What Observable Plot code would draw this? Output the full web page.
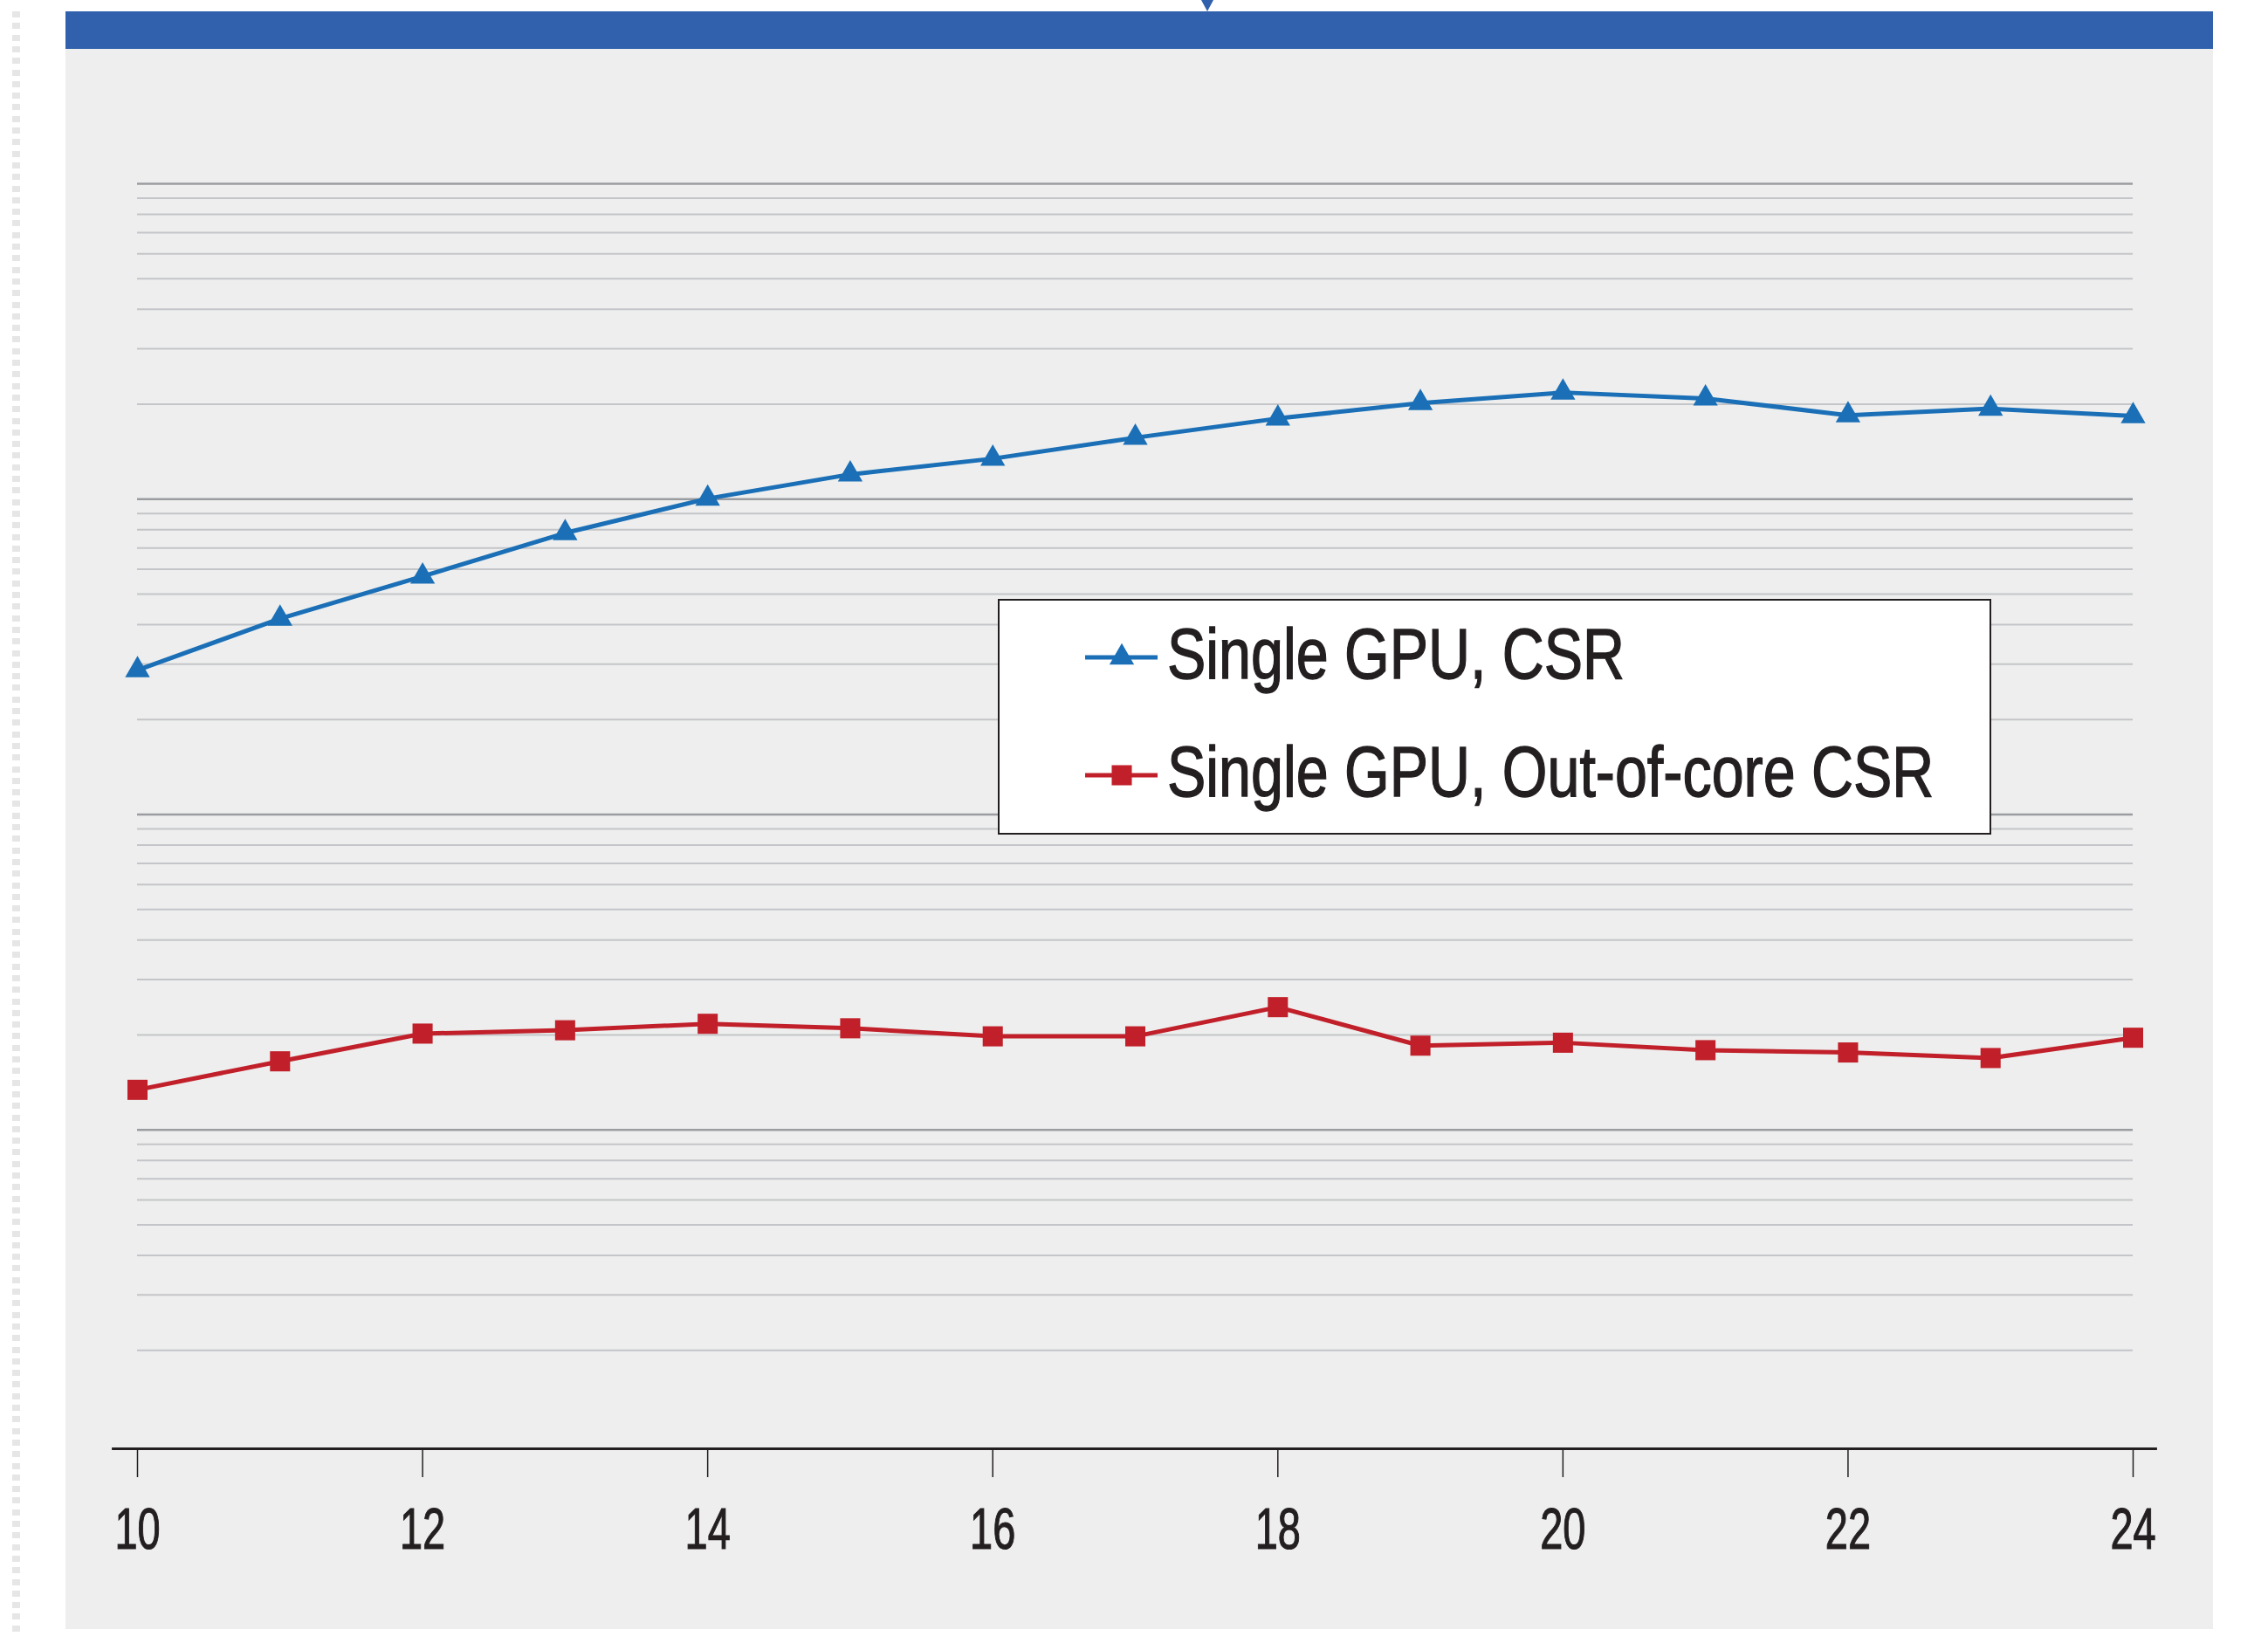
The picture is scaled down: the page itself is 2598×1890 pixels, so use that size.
<!DOCTYPE html>
<html><head><meta charset="utf-8">
<script src="https://cdn.jsdelivr.net/npm/d3@7"></script>
<script src="https://cdn.jsdelivr.net/npm/@observablehq/plot@0.6"></script>
<style>
html,body{margin:0;padding:0;background:#fff;width:2598px;height:1890px;overflow:hidden;position:relative;font-family:"Liberation Sans",Arial,sans-serif}
#dash{position:absolute;left:14px;top:13px;width:9px;height:1862px;background:repeating-linear-gradient(to bottom,#e6e6e6 0 7px,transparent 7px 13.3px)}
#panel{position:absolute;left:75px;top:55px;width:2460px;height:1811px;background:#edeeed}
#bar{position:absolute;left:75px;top:13px;width:2460px;height:43px;background:#3161ad}
#notch{position:absolute;left:1376px;top:0;width:0;height:0;border-left:7px solid transparent;border-right:7px solid transparent;border-top:13px solid #3161ad}
#chart{position:absolute;left:0;top:0}
#chart svg{display:block}
#legend{position:absolute;left:1143px;top:686px}
</style></head><body>
<div id="dash"></div><div id="panel"></div><div id="bar"></div><div id="notch"></div>
<div id="chart"></div><div id="legend"></div>
<script>
// ---- data ----
const scales = [10, 11, 12, 13, 14, 15, 16, 17, 18, 19, 20, 21, 22, 23, 24];
const csrValues = [287, 418, 569, 781, 1004, 1198, 1344, 1566, 1802, 2017, 2178, 2086, 1845, 1936, 1834];
const oocValues = [13.4, 16.5, 20.2, 20.7, 21.7, 21.0, 19.8, 19.8, 24.5, 18.5, 18.9, 17.9, 17.6, 16.9, 19.6];
const seriesNames = ["Single GPU, CSR", "Single GPU, Out-of-core CSR"];
const seriesColors = ["#1a6fb7", "#c1202a"];
const seriesSymbols = ["triangle", "square"];
const xTickValues = [10, 12, 14, 16, 18, 20, 22, 24];
const yDecades = [1, 10, 100, 1000, 10000];

// ---- build table ----
const rows = scales.flatMap((s, i) => [
  {scale: s, value: csrValues[i], series: seriesNames[0]},
  {scale: s, value: oocValues[i], series: seriesNames[1]}
]);
const minorGrid = yDecades.slice(0, -1).flatMap(d => d3.range(2, 10).map(k => k * d));
const xFirst = scales[0], xLast = scales[scales.length - 1];
const symR = [10.5, 13];

const chart = Plot.plot({
  width: 2598, height: 1890,
  marginLeft: 129, marginRight: 129, marginTop: 210, marginBottom: 231,
  style: {background: "transparent", color: "#231f20", fontSize: "67px",
          fontFamily: "'Liberation Sans', Arial, sans-serif", overflow: "visible"},
  x: {domain: [xFirst, xLast], insetLeft: 28, insetRight: 26, ticks: xTickValues,
      tickSize: 33, tickPadding: 34, tickFormat: d => String(d), label: null},
  y: {type: "log", domain: [yDecades[0], yDecades[yDecades.length - 1]], axis: null, insetBottom: 4},
  color: {domain: seriesNames, range: seriesColors},
  marks: [
    Plot.ruleY(minorGrid, {x1: xFirst, x2: xLast, stroke: "#c4c5c9", strokeWidth: 2}),
    Plot.ruleY(yDecades.slice(1), {x1: xFirst, x2: xLast, stroke: "#9b9ca0", strokeWidth: 2.5}),
    Plot.frame({anchor: "bottom", stroke: "#231f20", strokeWidth: 2.8}),
    Plot.line(rows, {x: "scale", y: "value", z: "series", stroke: "series", strokeWidth: 5}),
    Plot.dot(rows.filter(d => d.series === seriesNames[0]),
      {x: "scale", y: "value", fill: "series", symbol: () => seriesSymbols[0], r: symR[0], stroke: "none"}),
    Plot.dot(rows.filter(d => d.series === seriesNames[1]),
      {x: "scale", y: "value", fill: "series", symbol: () => seriesSymbols[1], r: symR[1], stroke: "none"})
  ]
});
document.getElementById("chart").append(chart);

// condensed, slightly heavier look for tick labels
chart.querySelectorAll("text").forEach(t => {
  const w = t.getComputedTextLength();
  t.setAttribute("textLength", (w * 0.7).toFixed(1));
  t.setAttribute("lengthAdjust", "spacingAndGlyphs");
  t.setAttribute("stroke", "#231f20");
  t.setAttribute("stroke-width", "1.2");
});
chart.querySelectorAll("g[aria-label*='tick'] path, g[aria-label*='tick'] line").forEach(p => p.setAttribute("stroke-width", 1.5));

// ---- legend ----
const L = d3.select("#legend").append("svg").attr("width", 1138).attr("height", 270);
L.append("rect").attr("x", 1).attr("y", 1).attr("width", 1136).attr("height", 268)
  .attr("fill", "#fff").attr("stroke", "#231f20").attr("stroke-width", 2);
const rowY = [67, 202];
seriesNames.forEach((name, i) => {
  const g = L.append("g").attr("transform", `translate(0,${rowY[i]})`);
  g.append("line").attr("x1", 100).attr("x2", 183).attr("y1", 0).attr("y2", 0)
    .attr("stroke", seriesColors[i]).attr("stroke-width", 5);
  const sym = i === 0 ? d3.symbolTriangle : d3.symbolSquare;
  g.append("path").attr("transform", "translate(142,0)")
    .attr("d", d3.symbol(sym, Math.PI * symR[i] * symR[i])()).attr("fill", seriesColors[i]);
  g.append("text").attr("transform", "translate(194,24) scale(0.82,1)").attr("fill", "#231f20")
    .attr("stroke", "#231f20").attr("stroke-width", 1.4)
    .style("font-family", "'Liberation Sans', Arial, sans-serif").style("font-size", "81px")
    .text(name);
});
</script>
</body></html>
